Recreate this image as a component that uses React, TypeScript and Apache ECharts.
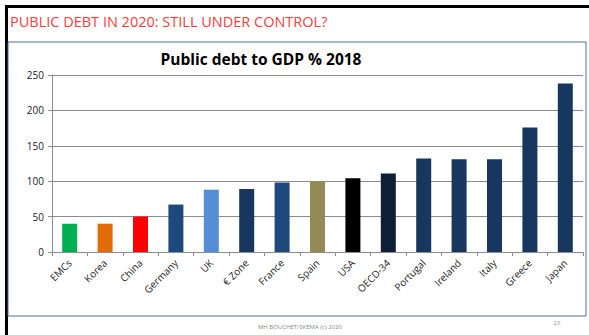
import React, { useEffect, useRef } from "react";
import * as echarts from "echarts";

const categories = ["EMCs", "Korea", "China", "Germany", "UK", "€ Zone", "France", "Spain", "USA", "OECD-34", "Portugal", "Ireland", "Italy", "Greece", "Japan"];
const values = [40, 40, 50, 67, 88, 89, 98, 100, 104, 111, 132, 131, 131, 176, 238];
const colors = ["#00b050", "#e36c0a", "#ff0000", "#1f497d", "#558ed5", "#17375e", "#1f497d", "#948a54", "#000000", "#0f1f38", "#17375e", "#17375e", "#17375e", "#17375e", "#17375e"];
const yTicks = [0, 50, 100, 150, 200, 250];

export default function App() {
  const ref = useRef<HTMLDivElement>(null);
  useEffect(() => {
    if (!ref.current) return;
    const chart = echarts.init(ref.current, null, { renderer: "svg" });
    chart.setOption({
      animation: false,
      backgroundColor: "#ffffff",
      grid: { left: 52, right: 6, top: 75, bottom: 83 },
      xAxis: {
        type: "category",
        data: categories,
        axisLine: { lineStyle: { color: "#8c8c8c" } },
        axisTick: { show: true, length: 4, lineStyle: { color: "#8c8c8c" } },
        axisLabel: { rotate: 45, fontSize: 10, color: "#222", fontFamily: "Open Sans", margin: 9, interval: 0 },
      },
      yAxis: {
        type: "value",
        min: 0,
        max: 250,
        interval: 50,
        axisLine: { show: true, lineStyle: { color: "#8c8c8c" } },
        axisTick: { show: true, length: 4, lineStyle: { color: "#8c8c8c" } },
        splitLine: { lineStyle: { color: "#8c8c8c" } },
        axisLabel: { fontSize: 10, color: "#222", fontFamily: "Open Sans", margin: 8, formatter: (v: number) => (yTicks.includes(v) ? String(v) : "") },
      },
      series: [
        {
          type: "bar",
          data: values.map((v, i) => ({ value: v, itemStyle: { color: colors[i] } })),
          barWidth: 15,
        },
      ],
      graphic: [
        { type: "rect", shape: { x: 5, y: 5, width: 584, height: 3 }, style: { fill: "#000" } },
        { type: "rect", shape: { x: 5, y: 5, width: 3, height: 330 }, style: { fill: "#000" } },
        { type: "rect", shape: { x: 8, y: 42, width: 578, height: 274 }, style: { fill: "none", stroke: "#4a6fa5", lineWidth: 1 } },
        { type: "text", x: 10, y: 21, style: { text: "PUBLIC DEBT IN 2020: STILL UNDER CONTROL?", fill: "#ff3b3b", fontSize: 14.5, fontFamily: "Open Sans", verticalAlign: "middle" } },
        { type: "text", x: 261, y: 59, style: { text: "Public debt to GDP % 2018", fill: "#000", fontSize: 15.5, fontWeight: "bold", fontFamily: "Open Sans", align: "center", verticalAlign: "middle" } },
        { type: "text", x: 300, y: 327, style: { text: "MH BOUCHET/SKEMA (c) 2020", fill: "#888", fontSize: 6, fontFamily: "Open Sans", align: "center", verticalAlign: "middle" } },
        { type: "text", x: 557, y: 323, style: { text: "23", fill: "#999", fontSize: 6, fontFamily: "Open Sans", align: "center", verticalAlign: "middle" } },
      ],
    });
    return () => chart.dispose();
  }, []);
  return <div ref={ref} style={{ position: "fixed", left: 0, top: 0, width: 589, height: 335 }} />;
}
